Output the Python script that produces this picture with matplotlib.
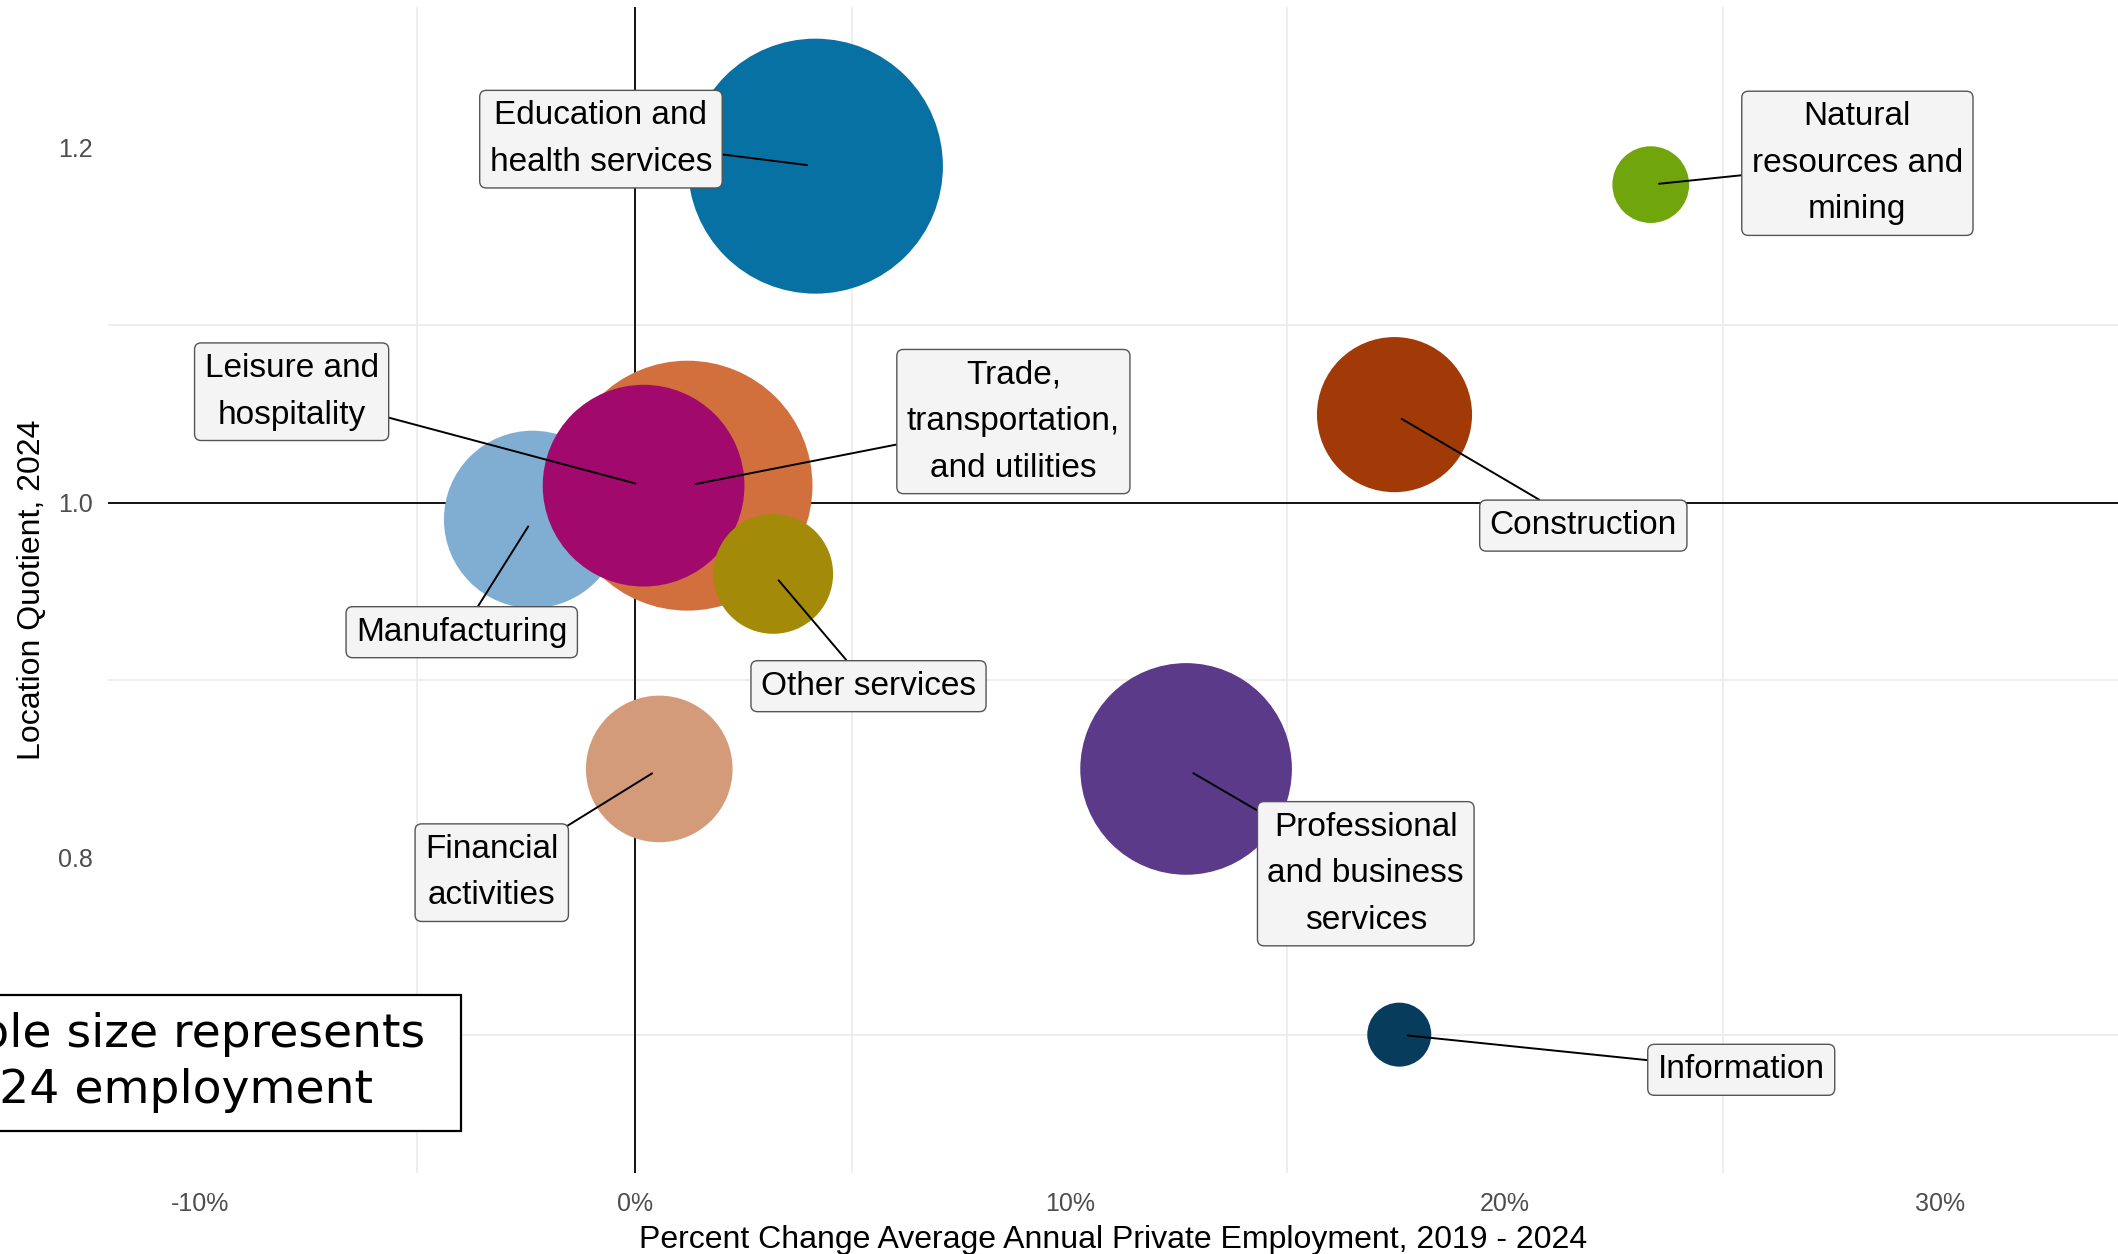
import matplotlib
matplotlib.use("Agg")
import matplotlib.pyplot as plt
from matplotlib.patches import Rectangle
from matplotlib.ticker import FuncFormatter, MultipleLocator

# Datos (orden de las industrias como en la tabla original)
industrias = ["Natural\nresources and\nmining", "Construction", "Manufacturing",
              "Trade,\ntransportation,\nand utilities", "Information",
              "Financial\nactivities", "Professional\nand business\nservices",
              "Education and\nhealth services", "Leisure and\nhospitality",
              "Other services"]
cambio_pct = [23.35, 17.46, -2.35, 1.21, 17.57, 0.56, 12.67, 4.15, 0.20, 3.18]  # % 2019-2024
cociente = [1.179, 1.0495, 0.9905, 1.0095, 0.7004, 0.850, 0.850, 1.1894, 1.0095, 0.9598]
empleo = [23, 94, 123, 244, 16, 84, 175, 254, 159, 56]  # miles, 2024
colores = ["#70A50C", "#A23A08", "#80AED3", "#D1703D", "#073C5C",
           "#D39B7A", "#5C3A8A", "#0871A4", "#A10A6C", "#A38A08"]

# Posicion de las etiquetas (como las dejo ggrepel)
etiqueta_x = [28.1, 21.8, -3.98, 8.70, 25.43, -3.29, 16.80, -0.78, -7.89, 5.37]
etiqueta_y = [1.191, 0.987, 0.927, 1.0456, 0.6806, 0.7916, 0.791, 1.2046, 1.0624, 0.8966]

plt.rcParams["font.family"] = ["Liberation Sans", "DejaVu Sans"]

fig = plt.figure(figsize=(21.18, 12.54), dpi=100)
ax = fig.add_axes([0.051, 0.0646, 0.949, 0.9298])

ax.scatter(cambio_pct, cociente, s=[e * 132.7 for e in empleo], c=colores,
           edgecolors="none", zorder=3)

ax.axhline(1.0, color="black", lw=1.3, zorder=2)
ax.axvline(0, color="black", lw=1.3, zorder=2)

for i in range(len(industrias)):
    ax.annotate(industrias[i], xy=(cambio_pct[i], cociente[i]),
                xytext=(etiqueta_x[i], etiqueta_y[i]), textcoords="data",
                ha="center", va="center", fontsize=24, linespacing=1.65, zorder=5,
                bbox=dict(boxstyle="round,pad=0.3,rounding_size=0.2",
                          fc="#F4F4F4", ec="#555555", lw=1),
                arrowprops=dict(arrowstyle="-", color="black", lw=1.4,
                                shrinkA=0, shrinkB=6))

# Caja de la leyenda de tamano (cortada por el borde)
ax.add_patch(Rectangle((-18.02, 0.6462), 14.02, 0.0765, fc="white", ec="black",
                       lw=1.6, clip_on=False, zorder=6))
ax.text(-11.01, 0.6845, "Bubble size represents\n2024 employment", ha="center",
        va="center", fontsize=34, family="DejaVu Sans", linespacing=1.32,
        clip_on=False, zorder=7)

ax.set_xlim(-12.11, 34.09)
ax.set_ylim(0.6225, 1.279)
ax.xaxis.set_major_locator(MultipleLocator(10))
ax.xaxis.set_minor_locator(MultipleLocator(5))
ax.yaxis.set_major_locator(MultipleLocator(0.2))
ax.yaxis.set_minor_locator(MultipleLocator(0.1))
ax.xaxis.set_major_formatter(FuncFormatter(lambda v, p: f"{v:.0f}%"))
ax.yaxis.set_major_formatter(FuncFormatter(lambda v, p: f"{v:.1f}"))
ax.grid(which="minor", color="#EBEBEB", lw=1.2)
ax.grid(which="major", visible=False)
ax.set_axisbelow(True)
ax.tick_params(which="both", length=0, labelsize=18, labelcolor="#4D4D4D")
ax.tick_params(axis="x", pad=14)
ax.tick_params(axis="y", pad=11)
for s in ax.spines.values():
    s.set_visible(False)

ax.set_xlabel("Percent Change Average Annual Private Employment, 2019 - 2024",
              fontsize=23, labelpad=6)
ax.set_ylabel("Location Quotient, 2024", fontsize=23, labelpad=8)

fig.savefig("out.png", dpi=100)
